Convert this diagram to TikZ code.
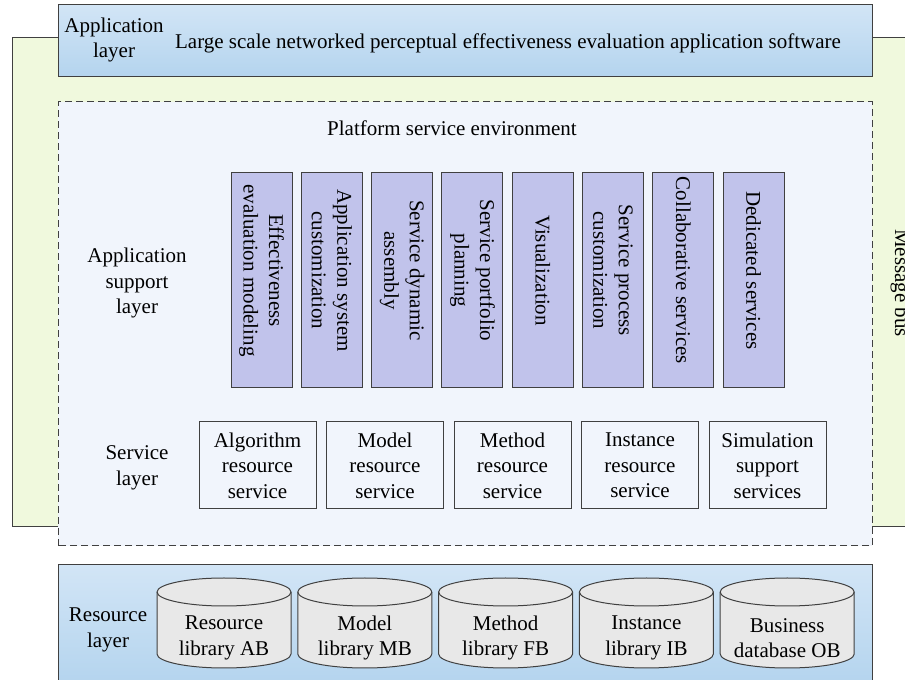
\documentclass[tikz,border=0pt]{standalone}
\usepackage{fontspec}
\setmainfont{Liberation Serif}
\definecolor{edge}{RGB}{64,64,64}
\definecolor{busgreen}{RGB}{240,249,221}
\definecolor{bartop}{RGB}{210,229,246}
\definecolor{barbot}{RGB}{180,212,238}
\definecolor{platfill}{RGB}{241,245,252}
\definecolor{supfill}{RGB}{193,195,235}
\definecolor{dbfill}{RGB}{232,232,232}
\begin{document}
\begin{tikzpicture}[x=1pt,y=1pt,line width=1pt,
  every node/.style={font=\fontsize{21}{25.5}\selectfont,align=center},
  layerbar/.style={draw=edge,top color=bartop,bottom color=barbot},
  supbox/.style={draw=edge,fill=supfill,rotate=-90,minimum width=215pt,minimum height=61pt,inner sep=0pt},
  srvbox/.style={draw=edge,fill=platfill,minimum width=117pt,minimum height=87pt,inner sep=0pt},
  dbcyl/.style={draw=edge,fill=dbfill}]
\useasboundingbox (0,0) rectangle (905,680);
% message bus
\filldraw[draw=edge,fill=busgreen] (12,153) rectangle (915,642);
\node[rotate=-90,anchor=base] (bus) at (895,397) {Message bus};
% application layer
\path[layerbar] (58,603) rectangle (872,675);
\node (applbl) at (114,640) {Application\\layer};
\node (appsw) at (508,637) {Large scale networked perceptual effectiveness evaluation application software};
% platform
\filldraw[draw=edge,fill=platfill,dash pattern=on 7pt off 4pt] (58,134) rectangle (872,578);
\node (plat) at (452,552) {Platform service environment};
\node (supl) at (137,397) {Application\\support\\layer};
\foreach \t [count=\i from 0] in {{Effectiveness\\evaluation modeling},{Application system\\customization},
  {Service dynamic\\assembly},{Service portfolio\\planning},{Visualization},{Service process\\customization},
  {Collaborative services},{Dedicated services}}
{
  \node[supbox] (sup\i) at (261.5+70.3*\i,399.5) {};
  \node[rotate=-90] (suptxt\i) at ([yshift=10pt]sup\i.center) {\t};
}
\node (srvl) at (137,212) {Service\\layer};
\foreach \t [count=\i from 0] in {{Algorithm\\resource\\service},{Model\\resource\\service},{Method\\resource\\service},
  {Instance\\resource\\service},{Simulation\\support\\services}}
  \node[srvbox] (srv\i) at (257.5+127.5*\i,214.5) {\t};
% resource layer
\path[layerbar] (58,-5) rectangle (872,115);
\node (resl) at (108,50) {Resource\\layer};
\foreach \t [count=\i from 0] in {{Resource\\library AB},{Model\\library MB},{Method\\library FB},
  {Instance\\library IB},{Business\\database OB}}
{
  \pgfmathsetmacro{\cx}{224+140.8*\i}
  \filldraw[dbcyl] (\cx-67,88) -- (\cx-67,26) arc[start angle=180,end angle=360,x radius=67,y radius=14]
    -- (\cx+67,88) arc[start angle=0,end angle=180,x radius=67,y radius=14] -- cycle;
  \draw[edge] (\cx-67,88) arc[start angle=180,end angle=360,x radius=67,y radius=14];
  \node (db\i) at (\cx,42) {\t};
}
\end{tikzpicture}
\end{document}
